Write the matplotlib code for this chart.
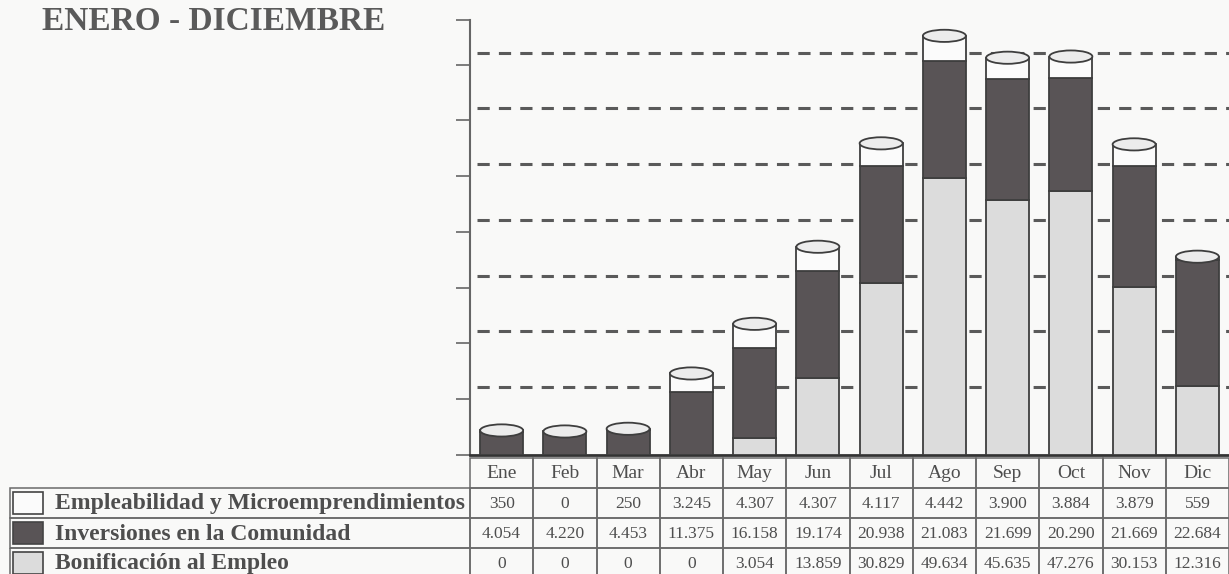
import numpy as np
import matplotlib.pyplot as plt
import matplotlib.transforms as mtransforms
from matplotlib.patches import Ellipse, Rectangle

meses = ['Ene', 'Feb', 'Mar', 'Abr', 'May', 'Jun', 'Jul', 'Ago', 'Sep', 'Oct', 'Nov', 'Dic']
empleabilidad = [350, 0, 250, 3245, 4307, 4307, 4117, 4442, 3900, 3884, 3879, 559]
inversiones = [4054, 4220, 4453, 11375, 16158, 19174, 20938, 21083, 21699, 20290, 21669, 22684]
bonificacion = [0, 0, 0, 0, 3054, 13859, 30829, 49634, 45635, 47276, 30153, 12316]
series_labels = ['Empleabilidad y Microemprendimientos', 'Inversiones en la Comunidad',
                 'Bonificación al Empleo']
series_colors = ['#fbfbfb', '#595456', '#dcdcdc']

plt.rcParams['font.family'] = ['Liberation Serif', 'DejaVu Serif']

W, H = 1229, 574
fig = plt.figure(figsize=(W / 100, H / 100), dpi=100)
fig.patch.set_facecolor('#f9f9f8')

ax = fig.add_axes([470 / W, (H - 455) / H, (W - 470) / W, 435 / H])
ax.set_facecolor('none')
x = np.arange(len(meses))
bw = 0.68
edge = '#3e3e3e'

# stacked cylinders: bonificacion at bottom, then inversiones, then empleabilidad
bottom = np.zeros(len(meses))
for vals, col in zip([bonificacion, inversiones, empleabilidad], series_colors[::-1]):
    ax.bar(x, vals, bw, bottom=bottom, color=col, edgecolor=edge, linewidth=1.3, zorder=3)
    bottom = bottom + np.array(vals)

ymax = 78000
cap_h = ymax * 0.028
for i, tot in enumerate(bottom):
    ax.add_patch(Ellipse((x[i], tot), bw, cap_h, facecolor='#ececec', edgecolor=edge,
                         linewidth=1.3, zorder=4))

# back-wall dashed gridlines (shifted up/right for the 3D look)
trans = ax.get_yaxis_transform() + mtransforms.ScaledTranslation(0.07, 0.12, fig.dpi_scale_trans)
for v in range(10000, 80000, 10000):
    ax.plot([0, 1], [v, v], transform=trans, color='#5a5a5a', linestyle=(0, (4, 3)),
            linewidth=2.2, zorder=1, clip_on=False)

ax.set_xlim(-0.5, 11.5)
ax.set_ylim(0, ymax)
ax.set_yticks(list(range(0, 80000, 10000)) + [ymax])
ax.set_yticklabels([])
ax.set_xticks([])
ax.tick_params(axis='y', length=10, width=1.2, color='#666666')
for s in ['top', 'right']:
    ax.spines[s].set_visible(False)
ax.spines['left'].set_color('#666666')
ax.spines['left'].set_linewidth(1.5)
ax.spines['bottom'].set_color('#333333')
ax.spines['bottom'].set_linewidth(2)

# data table under the chart, drawn in pixel coordinates
def fmt(v):
    return f'{v:,}'.replace(',', '.')

tax = fig.add_axes([0, 0, 1, (H - 457) / H])
tax.set_xlim(0, W)
tax.set_ylim(H, 457)
tax.axis('off')
row_h = 30
top0 = 458
lab_x0, col_x0 = 10, 470
col_w = (W - col_x0) / len(meses)
line = dict(facecolor='none', edgecolor='#6a6a6a', linewidth=1.1, clip_on=False)
txt = dict(color='#4e4e4e', ha='center', va='center')

for j, m in enumerate(meses):
    x0 = col_x0 + j * col_w
    tax.add_patch(Rectangle((x0, top0), col_w, row_h, **line))
    tax.text(x0 + col_w / 2, top0 + row_h / 2 + 1, m, fontsize=14, **txt)

for k, (lab, col, vals) in enumerate(zip(series_labels, series_colors,
                                         [empleabilidad, inversiones, bonificacion])):
    y0 = top0 + row_h * (k + 1)
    tax.add_patch(Rectangle((lab_x0, y0), col_x0 - lab_x0, row_h, **line))
    tax.add_patch(Rectangle((lab_x0 + 3, y0 + 4), 30, 22, facecolor=col,
                            edgecolor='#444444', linewidth=1.2))
    tax.text(lab_x0 + 45, y0 + row_h / 2 + 1, lab, fontsize=17, fontweight='bold',
             color='#4e4e4e', ha='left', va='center')
    for j, v in enumerate(vals):
        x0 = col_x0 + j * col_w
        tax.add_patch(Rectangle((x0, y0), col_w, row_h, **line))
        tax.text(x0 + col_w / 2, y0 + row_h / 2 + 1, fmt(v), fontsize=12.5, **txt)

fig.text(42 / W, 1 - 22 / H, 'ENERO - DICIEMBRE', fontsize=24, fontweight='bold',
         color='#5a5a5a', va='center', ha='left')

plt.savefig('out.png', dpi=100, facecolor=fig.get_facecolor())
